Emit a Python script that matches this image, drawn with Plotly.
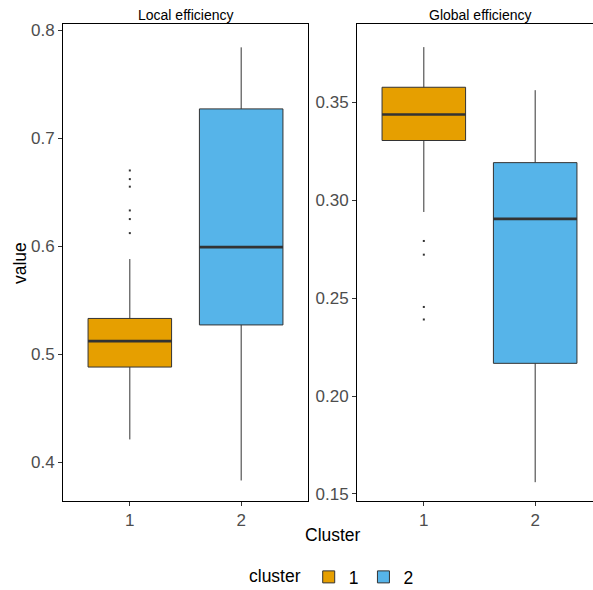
import plotly.graph_objects as go

# Cluster labels and fill colours
clusters = ["1", "2"]
cluster_pos = [1, 2]
fill_colors = ["#E69F00", "#56B4E9"]

# Local efficiency summary statistics per cluster
local_lower = [0.421, 0.383]
local_q1 = [0.488, 0.527]
local_median = [0.512, 0.599]
local_q3 = [0.533, 0.727]
local_upper = [0.588, 0.784]
local_outliers_c1 = [0.670, 0.662, 0.655, 0.633, 0.625, 0.612]

# Global efficiency summary statistics per cluster
global_lower = [0.294, 0.156]
global_q1 = [0.3305, 0.2167]
global_median = [0.3438, 0.2905]
global_q3 = [0.3577, 0.3192]
global_upper = [0.3782, 0.3562]
global_outliers_c1 = [0.2792, 0.2722, 0.2455, 0.2391]

BOX_W = 0.75
EDGE = "#333333"
FONT = "Liberation Sans, Arial, sans-serif"

fig = go.Figure()

panels = [
    ("x", "y", local_lower, local_q1, local_median, local_q3, local_upper, local_outliers_c1, True),
    ("x2", "y2", global_lower, global_q1, global_median, global_q3, global_upper, global_outliers_c1, False),
]

for xa, ya, lo, q1, med, q3, up, outl, show in panels:
    for i, c in enumerate(clusters):
        fig.add_trace(go.Box(
            x=[cluster_pos[i]], q1=[q1[i]], median=[med[i]], q3=[q3[i]],
            lowerfence=[lo[i]], upperfence=[up[i]],
            width=BOX_W, whiskerwidth=0, fillcolor=fill_colors[i],
            line=dict(color=EDGE, width=1), boxpoints=False,
            name=c, legendgroup=c, showlegend=show,
            xaxis=xa, yaxis=ya, hoverinfo="skip",
        ))
        # thicker median bar
        fig.add_trace(go.Scatter(
            x=[cluster_pos[i] - BOX_W / 2, cluster_pos[i] + BOX_W / 2],
            y=[med[i], med[i]], mode="lines",
            line=dict(color=EDGE, width=2.6), showlegend=False,
            xaxis=xa, yaxis=ya, hoverinfo="skip",
        ))
    # outlying points of cluster 1
    fig.add_trace(go.Scatter(
        x=[cluster_pos[0]] * len(outl), y=outl, mode="markers",
        marker=dict(symbol="square", size=2, color=EDGE, line=dict(width=0)),
        showlegend=False, xaxis=xa, yaxis=ya, hoverinfo="skip",
    ))

W, H = 593, 590
PANEL_W = 245  # both facets share the same width; the right one runs past the page edge
left_dom = [63 / W, (63 + PANEL_W) / W]
right_dom = [357 / W, 1.0]
y_dom = [1 - 501 / H, 1 - 24 / H]
x_range = [0.4, 2.6]
# visible part of the right facet keeps the same data-per-pixel scale
right_range = [0.4, 0.4 + (W - 357) * (x_range[1] - x_range[0]) / PANEL_W]

axis_common = dict(
    showline=True, linecolor="black", linewidth=1,
    ticks="outside", ticklen=4, tickcolor="#333333", tickwidth=1,
    showgrid=False, zeroline=False,
    tickfont=dict(family=FONT, size=17, color="#4D4D4D"),
)

fig.update_layout(
    width=W, height=H,
    margin=dict(l=0, r=0, t=0, b=0, autoexpand=False),
    paper_bgcolor="white", plot_bgcolor="white",
    font=dict(family=FONT),
    xaxis=dict(domain=left_dom, range=x_range, tickvals=cluster_pos, ticktext=clusters,
               anchor="y", mirror=True, **axis_common),
    yaxis=dict(domain=y_dom, range=[0.364, 0.8056], tickvals=[0.4, 0.5, 0.6, 0.7, 0.8],
               tickformat=".1f", anchor="x", mirror=True, **axis_common),
    xaxis2=dict(domain=right_dom, range=right_range, tickvals=cluster_pos, ticktext=clusters,
                anchor="y2", mirror=True, **axis_common),
    yaxis2=dict(domain=y_dom, range=[0.1464, 0.39], tickvals=[0.15, 0.20, 0.25, 0.30, 0.35],
                tickformat=".2f", anchor="x2", mirror=False, **axis_common),
    legend=dict(
        orientation="h", x=333 / W, xanchor="center", y=1 - 577 / H, yanchor="middle",
        title=dict(text="cluster", font=dict(family=FONT, size=17.5, color="black")),
        font=dict(family=FONT, size=17.5, color="black"),
        itemwidth=30, tracegroupgap=0,
    ),
    annotations=[
        dict(text="Local efficiency", x=(63 + PANEL_W / 2) / W, y=1 - 15 / H,
             xref="paper", yref="paper", xanchor="center", yanchor="middle", showarrow=False,
             font=dict(family=FONT, size=14, color="black")),
        dict(text="Global efficiency", x=(357 + PANEL_W / 2) / W, y=1 - 15 / H,
             xref="paper", yref="paper", xanchor="center", yanchor="middle", showarrow=False,
             font=dict(family=FONT, size=14, color="black")),
        dict(text="value", x=20 / W, y=1 - 263 / H, xref="paper", yref="paper",
             xanchor="center", yanchor="middle", showarrow=False, textangle=-90,
             font=dict(family=FONT, size=17.5, color="black")),
        dict(text="Cluster", x=333 / W, y=1 - 535 / H, xref="paper", yref="paper",
             xanchor="center", yanchor="middle", showarrow=False,
             font=dict(family=FONT, size=17.5, color="black")),
    ],
)

fig.write_html("out.html")
